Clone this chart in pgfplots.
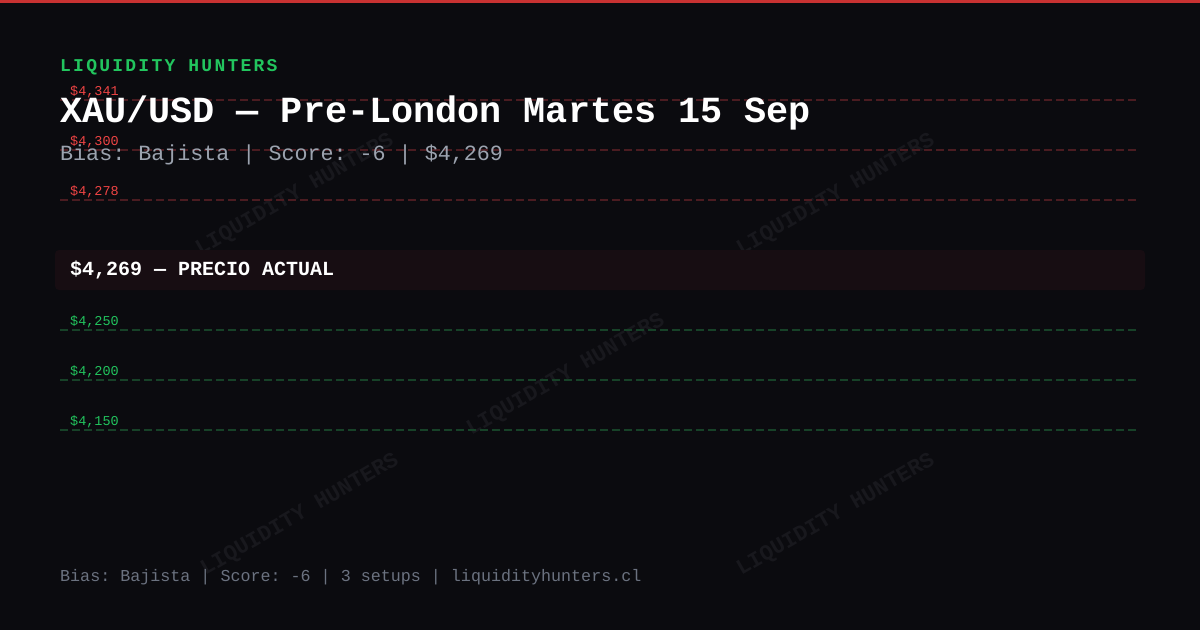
\documentclass[border=0pt]{standalone}
\usepackage{pgfplots}
\pgfplotsset{compat=1.18}
\usepackage{fontspec}
\setmainfont{Liberation Mono}
\frenchspacing

\definecolor{bg}{HTML}{0B0B0F}
\definecolor{topbar}{HTML}{C83232}
\definecolor{lhgreen}{HTML}{22C55E}
\definecolor{lvlred}{HTML}{EF4444}
\definecolor{lnred}{HTML}{4B1C21}
\definecolor{lngreen}{HTML}{174228}
\definecolor{band}{HTML}{170D12}
\definecolor{subgray}{HTML}{9CA3AF}
\definecolor{footgray}{HTML}{6B7280}
\definecolor{wmark}{HTML}{18181D}

\newcommand{\fs}[1]{\fontsize{#1bp}{#1bp}\selectfont}

\begin{document}
\begin{tikzpicture}[
    lvl/.style={line width=1.3bp, dash pattern=on 8bp off 4bp},
    wm/.style={wmark, rotate=30, font=\fs{22}\bfseries},
    lbl/.style={anchor=base west, inner sep=0},
]
\begin{axis}[
    scale only axis,
    width=1200bp, height=630bp,
    xmin=0, xmax=1200, ymin=0, ymax=630,
    y dir=reverse,
    hide axis,
    clip=false,
]
% background, top bar
\fill[bg] (axis cs:0,0) rectangle (axis cs:1200,630);
\fill[topbar] (axis cs:0,0) rectangle (axis cs:1200,3);

% watermarks
\node[wm] at (axis cs:295,195) {LIQUIDITY HUNTERS};
\node[wm] at (axis cs:836,195) {LIQUIDITY HUNTERS};
\node[wm] at (axis cs:566,375) {LIQUIDITY HUNTERS};
\node[wm] at (axis cs:300,515) {LIQUIDITY HUNTERS};
\node[wm] at (axis cs:836,515) {LIQUIDITY HUNTERS};

% resistance levels
\addplot[lvl, lnred] coordinates {(60,100) (1136,100)};
\addplot[lvl, lnred] coordinates {(60,150) (1136,150)};
\addplot[lvl, lnred] coordinates {(60,200) (1136,200)};
\node[lbl, lvlred, font=\fs{13.5}] at (axis cs:70,95) {\$4,341};
\node[lbl, lvlred, font=\fs{13.5}] at (axis cs:70,145) {\$4,300};
\node[lbl, lvlred, font=\fs{13.5}] at (axis cs:70,195) {\$4,278};

% current price band
\fill[band, rounded corners=4bp] (axis cs:55,250) rectangle (axis cs:1145,290);
\node[lbl, white, font=\fs{20}\bfseries] at (axis cs:70,275) {\$4,269 — PRECIO ACTUAL};

% support levels
\addplot[lvl, lngreen] coordinates {(60,330) (1136,330)};
\addplot[lvl, lngreen] coordinates {(60,380) (1136,380)};
\addplot[lvl, lngreen] coordinates {(60,430) (1136,430)};
\node[lbl, lhgreen, font=\fs{13.5}] at (axis cs:70,325) {\$4,250};
\node[lbl, lhgreen, font=\fs{13.5}] at (axis cs:70,375) {\$4,200};
\node[lbl, lhgreen, font=\fs{13.5}] at (axis cs:70,425) {\$4,150};

% header
\node[lbl, lhgreen, font=\fs{18}\bfseries\addfontfeatures{LetterSpace=12.5}] at (axis cs:60,71) {LIQUIDITY HUNTERS};
\node[lbl, white, font=\fs{36.8}\bfseries] at (axis cs:60,122) {XAU/USD — Pre-London Martes 15 Sep};
\node[lbl, subgray, font=\fs{21.7}] at (axis cs:60,160) {Bias: Bajista | Score: -6 | \$4,269};

% footer
\node[lbl, footgray, font=\fs{16.7}] at (axis cs:60,581) {Bias: Bajista | Score: -6 | 3 setups | liquidityhunters.cl};
\end{axis}
\pgfresetboundingbox
\path (0,0) rectangle (1200bp,630bp);
\end{tikzpicture}
\end{document}
